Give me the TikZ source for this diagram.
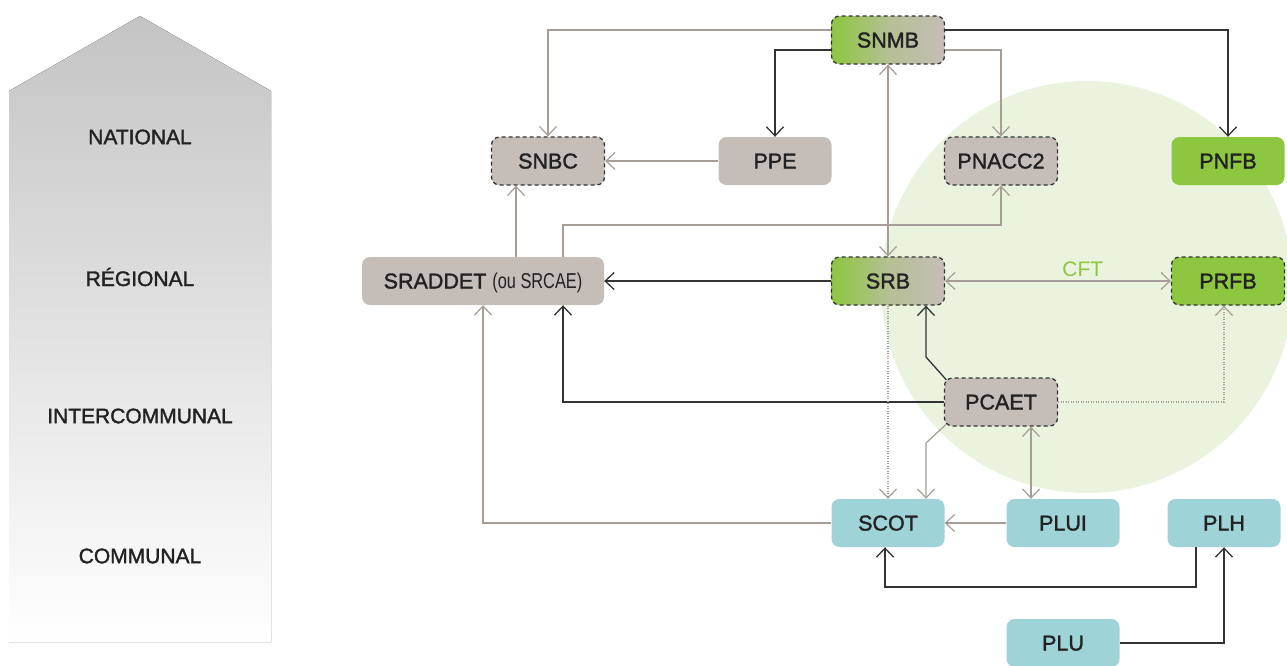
\documentclass[tikz,border=0pt]{standalone}
\usepackage{fontspec}
\usepackage{graphicx}
\setmainfont{Liberation Sans}
\newfontfamily\medfont{Liberation Sans}[FakeBold=1.6]
\usetikzlibrary{arrows.meta}
\definecolor{nodegray}{HTML}{C5BDB7}
\definecolor{nodegreen}{HTML}{8DC63F}
\definecolor{nodecyan}{HTML}{9ED3D8}
\definecolor{circlegreen}{HTML}{E9F3DE}
\definecolor{linegray}{HTML}{A59D96}
\definecolor{lineblack}{HTML}{333333}
\definecolor{dashc}{HTML}{333333}
\definecolor{txt}{HTML}{222222}
\definecolor{lvtop}{HTML}{C4C4C4}
\tikzset{
  >={Straight Barb[length=9pt,width=17pt]},
  box/.style={rounded corners=8pt, minimum width=113pt, minimum height=48pt,
    inner sep=0pt, text height=15pt, text depth=0pt,
    font=\medfont\fontsize{21.5}{24}\selectfont, text=txt},
  graybox/.style={box, fill=nodegray},
  greenbox/.style={box, fill=nodegreen},
  cyanbox/.style={box, fill=nodecyan},
  gradbox/.style={box, left color=nodegreen, right color=nodegray,
    middle color=nodegray!70!nodegreen},
  dashbox/.style={draw=dashc, line width=1.3pt, dash pattern=on 4pt off 3pt},
  gline/.style={draw=linegray, line width=1.2pt, ->},
  bline/.style={draw=lineblack, line width=1.3pt, ->},
  gdot/.style={draw=linegray, line width=1.2pt, dash pattern=on 1pt off 1.5pt, ->},
  lvl/.style={font=\medfont\fontsize{21}{24}\selectfont, text=txt, inner sep=0pt},
}
\begin{document}
\begin{tikzpicture}[x=1pt,y=-1pt]
\useasboundingbox (0,0) rectangle (1287,665);
% background circle
\fill[circlegreen] (1087,287) circle[radius=206];
% level arrow
\fill[top color=lvtop, bottom color=white] (9,91) -- (140,16) -- (271,91) -- (271,642) -- (9,642) -- cycle;
\node[lvl] (lnat) at (140,137) {NATIONAL};
\node[lvl] (lreg) at (140,277) {RÉGIONAL};
\node[lvl] (lint) at (140,416) {INTERCOMMUNAL};
\node[lvl] (lcom) at (140,556) {COMMUNAL};
% nodes
\node[gradbox, dashbox] (snmb) at (888,40) {SNMB};
\node[graybox, dashbox] (snbc) at (548,161) {SNBC};
\node[graybox] (ppe) at (775,161) {PPE};
\node[graybox, dashbox] (pnacc) at (1001,161) {PNACC2};
\node[greenbox] (pnfb) at (1228,161) {PNFB};
\node[graybox, minimum width=242pt] (sraddet) at (483,281) {SRADDET {\fontspec{Liberation Sans}\scalebox{0.76}[1]{(ou SRCAE)}}};
\node[gradbox, dashbox] (srb) at (888,281) {SRB};
\node[greenbox, dashbox] (prfb) at (1228,281) {PRFB};
\node[graybox, dashbox] (pcaet) at (1001,402) {PCAET};
\node[cyanbox] (scot) at (888,523) {SCOT};
\node[cyanbox] (plui) at (1063,523) {PLUI};
\node[cyanbox] (plh) at (1224,523) {PLH};
\node[cyanbox] (plu) at (1063,643) {PLU};
% helper coordinates
\coordinate (c516) at (516,0);
\coordinate (k1) at (563,225);
\coordinate (b1) at (926,357);
\coordinate (b2) at (926,443);
\coordinate (d1224) at (1224,0);
\coordinate (e1031) at (1031,0);
\coordinate (h1) at (1196,587);
\coordinate (h2) at (885,587);
% connectors
\draw[gline] ([yshift=10pt]snmb.west) -| (snbc.north);
\draw[bline] ([yshift=-10pt]snmb.west) -| (ppe.north);
\draw[gline] (ppe.west) -- (snbc.east);
\draw[bline] ([yshift=10pt]snmb.east) -| (pnfb.north);
\draw[gline] ([yshift=-10pt]snmb.east) -| (pnacc.north);
\draw[gline,<->] (snmb.south) -- (srb.north);
\draw[bline] (srb.west) -- (sraddet.east);
\draw[gline,<->] (srb.east) -- node[pos=0.61, above=4pt, inner sep=0pt, text=nodegreen, font=\fontsize{21}{24}\selectfont] (cft) {CFT} (prfb.west);
\draw[gline] (sraddet.north -| c516) -- (snbc.south -| c516);
\draw[gline] (sraddet.north -| k1) -- (k1) -| (pnacc.south);
\draw[bline] ([xshift=2.5pt,yshift=-2.5pt]pcaet.north west) -- (b1) -- (srb.south -| b1);
\draw[bline] (pcaet.west) -| (sraddet.south -| k1);
\draw[gdot] (pcaet.east) -| (prfb.south -| d1224);
\draw[gdot] (srb.south) -- (scot.north);
\draw[gline] ([xshift=2.5pt,yshift=2.5pt]pcaet.south west) -- (b2) -- (scot.north -| b2);
\draw[gline,<->] (pcaet.south -| e1031) -- (plui.north -| e1031);
\draw[gline] (plui.west) -- (scot.east);
\draw[gline] (scot.west) -| (sraddet.south);
\draw[bline] (plh.south -| h1) -- (h1) -- (h2) -- (scot.south -| h2);
\draw[bline] (plu.east) -| (plh.south);
\end{tikzpicture}
\end{document}
